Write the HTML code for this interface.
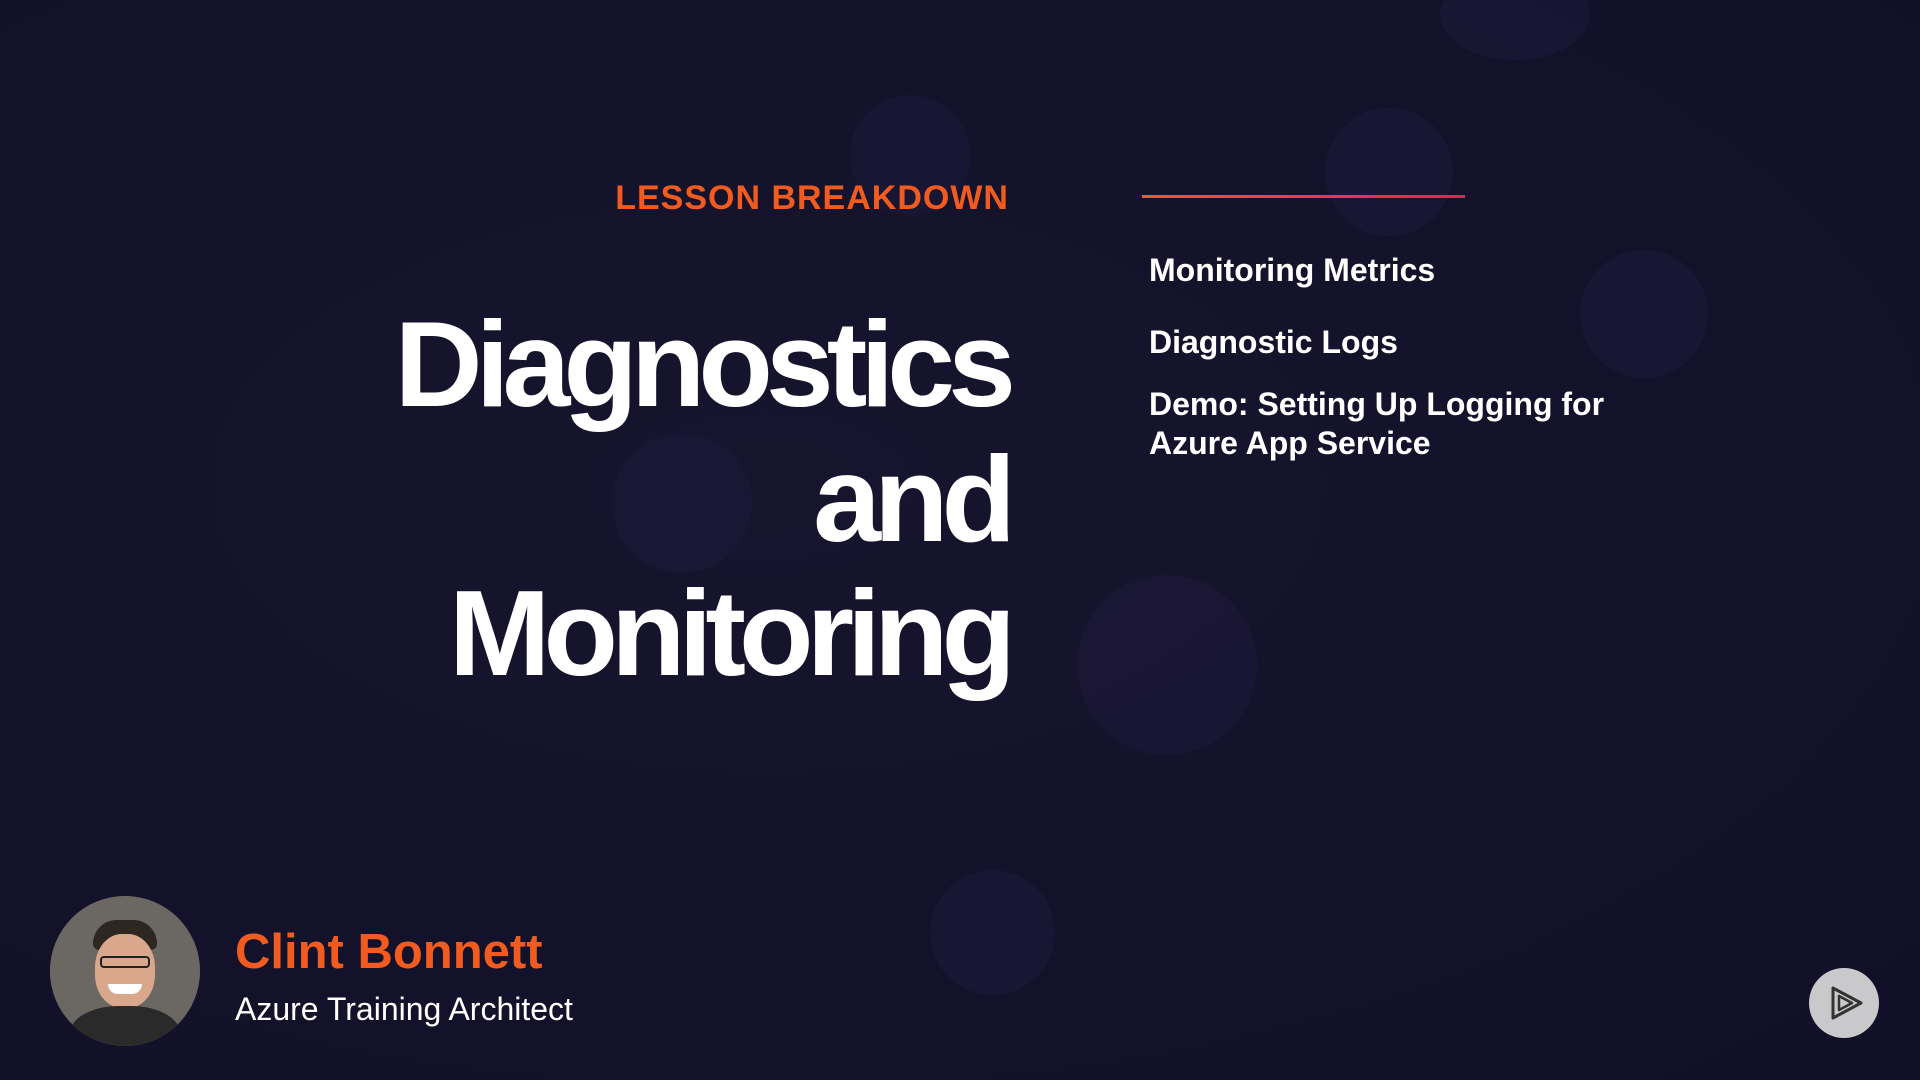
<!DOCTYPE html>
<html>
<head>
<meta charset="utf-8">
<style>
  html,body{margin:0;padding:0;}
  body{width:1920px;height:1080px;overflow:hidden;background:#15132a;position:relative;font-family:"Liberation Sans",sans-serif;}
  .bg{position:absolute;inset:0;background:radial-gradient(ellipse at 40% 45%,#17152e 0%,#14122a 60%,#121027 100%);}
  .blob{position:absolute;border-radius:50%;background:#1d1a3c;opacity:.5;}
  .t{position:absolute;line-height:1;white-space:nowrap;}
  .title{right:911px;font-size:122px;font-weight:bold;color:#fff;text-align:right;letter-spacing:-7px;}
  .item{left:1149px;font-size:32px;font-weight:bold;color:#fff;}
</style>
</head>
<body>
<div class="bg"></div>
<div class="blob" style="left:850px;top:95px;width:120px;height:120px;"></div>
<div class="blob" style="left:1325px;top:108px;width:128px;height:128px;"></div>
<div class="blob" style="left:1580px;top:250px;width:128px;height:128px;"></div>
<div class="blob" style="left:612px;top:433px;width:140px;height:140px;"></div>
<div class="blob" style="left:1077px;top:575px;width:180px;height:180px;"></div>
<div class="blob" style="left:930px;top:870px;width:125px;height:125px;"></div>
<div class="blob" style="left:1440px;top:-30px;width:150px;height:90px;"></div>

<div class="t" style="right:911px;top:181px;font-size:34px;font-weight:bold;color:#f15b1f;letter-spacing:1px;">LESSON BREAKDOWN</div>

<div class="t title" style="top:303px;">Diagnostics</div>
<div class="t title" style="top:438px;">and</div>
<div class="t title" style="top:572px;">Monitoring</div>

<div style="position:absolute;left:1142px;top:195px;width:323px;height:3px;background:linear-gradient(90deg,#f15b1f,#e8205a);"></div>

<div class="t item" style="top:254px;">Monitoring Metrics</div>
<div class="t item" style="top:326px;">Diagnostic Logs</div>
<div class="t item" style="top:388px;">Demo: Setting Up Logging for</div>
<div class="t item" style="top:427px;">Azure App Service</div>

<div style="position:absolute;left:50px;top:896px;width:150px;height:150px;border-radius:50%;background:#5e5a55;overflow:hidden;">
  <div style="position:absolute;left:0;top:0;width:150px;height:150px;background:#6b6762;"></div>
  <div style="position:absolute;left:43px;top:24px;width:64px;height:30px;border-radius:30px 30px 8px 8px;background:#2e2620;"></div>
  <div style="position:absolute;left:45px;top:38px;width:60px;height:74px;border-radius:45%;background:#d9a78c;"></div>
  <div style="position:absolute;left:50px;top:60px;width:50px;height:12px;border:2px solid #222;border-radius:4px;box-sizing:border-box;"></div>
  <div style="position:absolute;left:58px;top:88px;width:34px;height:10px;border-radius:0 0 17px 17px;background:#fff;"></div>
  <div style="position:absolute;left:20px;top:110px;width:110px;height:60px;border-radius:45% 45% 0 0;background:#2a2a2a;"></div>
</div>

<div class="t" style="left:235px;top:928px;font-size:49px;font-weight:bold;color:#f15b1f;">Clint Bonnett</div>
<div class="t" style="left:235px;top:993px;font-size:32px;color:#fff;">Azure Training Architect</div>

<div style="position:absolute;left:1809px;top:968px;width:70px;height:70px;border-radius:50%;background:#c9c9cc;">
  <svg width="70" height="70" viewBox="0 0 70 70" style="position:absolute;left:0;top:0;">
    <polygon points="24,20 52,35 24,50" fill="none" stroke="#333" stroke-width="3" stroke-linejoin="round"/>
    <polygon points="30,28 43,35 30,42" fill="none" stroke="#333" stroke-width="2.5" stroke-linejoin="round"/>
  </svg>
</div>
</body>
</html>
